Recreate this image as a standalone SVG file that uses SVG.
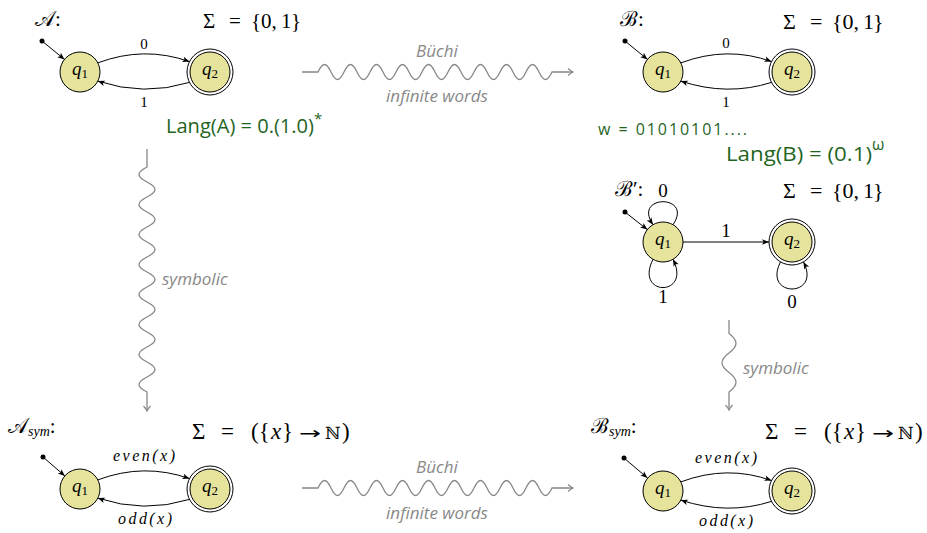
<svg xmlns="http://www.w3.org/2000/svg" width="927" height="533" viewBox="0 0 927 533">
<defs>
<marker id="ah" markerUnits="userSpaceOnUse" markerWidth="10" markerHeight="10" refX="0" refY="0" orient="auto" overflow="visible">
<path d="M0,0 L-7,-2.8 L-5.3,0 L-7,2.8 Z" fill="#000"/>
</marker>
<marker id="wh" markerUnits="userSpaceOnUse" markerWidth="10" markerHeight="10" refX="0" refY="0" orient="auto" overflow="visible">
<path d="M-5,-3.5 Q-2,-0.8 0,0 Q-2,0.8 -5,3.5" fill="none" stroke="#888" stroke-width="1.2"/>
</marker>
<style>
.st{fill:#e6e39d;stroke:#000;stroke-width:1}
.acc{fill:#fff;stroke:#000;stroke-width:1}
.m{font-family:"Liberation Serif","DejaVu Serif",serif;fill:#000}
.q{font-family:"Liberation Serif","DejaVu Serif",serif;font-style:italic;font-size:19px;fill:#000}
.sub{font-style:normal;font-size:13px}
.e{fill:none;stroke:#000;stroke-width:1;marker-end:url(#ah)}
.w{fill:none;stroke:#888;stroke-width:1.3;marker-end:url(#wh)}
.wl{font-family:"Open Sans","Liberation Sans",sans-serif;font-style:italic;font-size:17px;fill:#888}
.hw{font-family:"Open Sans","Liberation Sans",sans-serif;fill:#1f651f}
.dot{fill:#000}
.arr{font-family:"DejaVu Sans",sans-serif;font-size:17px}
.nn{font-family:"DejaVu Serif",serif;font-size:17px}
</style>
</defs>

<!-- titles and alphabets -->
<g id="titles" class="m">
<text x="35" y="26" font-size="21">𝒜:</text>
<text y="28" font-size="21"><tspan x="203">Σ</tspan><tspan x="229">=</tspan><tspan x="251">{0,</tspan><tspan x="281">1</tspan><tspan x="291">}</tspan></text>
<text x="620" y="26" font-size="21">ℬ:</text>
<text y="29" font-size="22"><tspan x="783">Σ</tspan><tspan x="810">=</tspan><tspan x="832">{0,</tspan><tspan x="863">1</tspan><tspan x="873">}</tspan></text>
<text x="615" y="196" font-size="21">ℬ′:</text>
<text y="198" font-size="22"><tspan x="783">Σ</tspan><tspan x="810">=</tspan><tspan x="832">{0,</tspan><tspan x="863">1</tspan><tspan x="873">}</tspan></text>
<text x="8" y="433" font-size="21">𝒜<tspan font-style="italic" font-size="14" dy="3">sym</tspan><tspan dy="-3">:</tspan></text>
<text y="439" font-size="23"><tspan x="192">Σ</tspan><tspan x="221">=</tspan><tspan x="251">({</tspan><tspan x="271" font-style="italic">x</tspan><tspan x="282">}</tspan><tspan class="arr" x="299" textLength="22" lengthAdjust="spacingAndGlyphs">→</tspan><tspan class="nn" x="325">ℕ</tspan><tspan x="342">)</tspan></text>
<text x="591" y="433" font-size="21">ℬ<tspan font-style="italic" font-size="14" dy="3">sym</tspan><tspan dy="-3">:</tspan></text>
<text y="439" font-size="23"><tspan x="765">Σ</tspan><tspan x="794">=</tspan><tspan x="824">({</tspan><tspan x="844" font-style="italic">x</tspan><tspan x="855">}</tspan><tspan class="arr" x="872" textLength="22" lengthAdjust="spacingAndGlyphs">→</tspan><tspan class="nn" x="898">ℕ</tspan><tspan x="915">)</tspan></text>
</g>

<!-- handwritten notes -->
<g id="notes" class="hw">
<text x="166" y="133" font-size="20"><tspan textLength="148" lengthAdjust="spacingAndGlyphs">Lang(A) = 0.(1.0)</tspan><tspan dy="-9" font-size="15">*</tspan></text>
<text x="598" y="135" font-size="16" textLength="149" lengthAdjust="spacing">w = 01010101....</text>
<text x="726" y="161" font-size="20"><tspan textLength="146" lengthAdjust="spacingAndGlyphs">Lang(B) = (0.1)</tspan><tspan dy="-11" font-size="16">ω</tspan></text>
</g>

<!-- connectors -->
<g id="connectors">
<!-- A -->
<circle class="dot" cx="42" cy="41" r="2.5"/>
<path class="e" d="M42,41 L64.5,59.4"/>
<path class="e" d="M97.8,62.9 Q144,45.5 189.5,61.6"/>
<path class="e" d="M189.5,82.4 Q144,96.5 97.8,81.1"/>
<text class="m" x="144" y="49" font-size="15" text-anchor="middle">0</text>
<text class="m" x="144" y="107" font-size="15" text-anchor="middle">1</text>
<!-- B -->
<circle class="dot" cx="625" cy="41" r="2.5"/>
<path class="e" d="M625,41 L647.5,59.4"/>
<path class="e" d="M680.8,62.9 Q727.5,45.5 771.5,61.6"/>
<path class="e" d="M771.5,82.4 Q727.5,96.5 680.8,81.1"/>
<text class="m" x="726" y="48" font-size="15" text-anchor="middle">0</text>
<text class="m" x="726" y="107" font-size="15" text-anchor="middle">1</text>
<!-- B' -->
<circle class="dot" cx="625" cy="212" r="2.5"/>
<path class="e" d="M625,212 L647.3,229.6"/>
<path class="e" d="M673,224.7 C694,194 632,194 653,224.7"/>
<path class="e" d="M653,259.3 C634,297 692,297 673,259.3"/>
<path class="e" d="M780.5,261.9 C762,298 822,298 803.5,261.9"/>
<path class="e" d="M683,242 L769,242"/>
<text class="m" x="663" y="197" font-size="19" text-anchor="middle">0</text>
<text class="m" x="726" y="237" font-size="19" text-anchor="middle">1</text>
<text class="m" x="663" y="303" font-size="19" text-anchor="middle">1</text>
<text class="m" x="792" y="308" font-size="19" text-anchor="middle">0</text>
<!-- A_sym -->
<circle class="dot" cx="43" cy="457" r="2.5"/>
<path class="e" d="M43,457 L64.9,476"/>
<path class="e" d="M97.8,479.9 Q144,462.5 189.5,478.6"/>
<path class="e" d="M189.5,499.4 Q144,513.5 97.8,498.1"/>
<text class="m" x="113" y="461" font-size="16" font-style="italic" textLength="62" lengthAdjust="spacing">even(x)</text>
<text class="m" x="118" y="524" font-size="16" font-style="italic" textLength="54" lengthAdjust="spacing">odd(x)</text>
<!-- B_sym -->
<circle class="dot" cx="624" cy="458" r="2.5"/>
<path class="e" d="M624,458 L647.5,478"/>
<path class="e" d="M680.8,481.9 Q727.5,464.5 771.5,480.6"/>
<path class="e" d="M771.5,501.4 Q727.5,515.5 680.8,500.1"/>
<text class="m" x="695" y="463" font-size="16" font-style="italic" textLength="62" lengthAdjust="spacing">even(x)</text>
<text class="m" x="699" y="526" font-size="16" font-style="italic" textLength="54" lengthAdjust="spacing">odd(x)</text>
<!-- transformations -->
<path class="w" d="M302,72 H318 c4.73,-10 8.27,-10 13,0 c4.73,10 8.27,10 13,0 c4.73,-10 8.27,-10 13,0 c4.73,10 8.27,10 13,0 c4.73,-10 8.27,-10 13,0 c4.73,10 8.27,10 13,0 c4.73,-10 8.27,-10 13,0 c4.73,10 8.27,10 13,0 c4.73,-10 8.27,-10 13,0 c4.73,10 8.27,10 13,0 c4.73,-10 8.27,-10 13,0 c4.73,10 8.27,10 13,0 c4.73,-10 8.27,-10 13,0 c4.73,10 8.27,10 13,0 c4.73,-10 8.27,-10 13,0 c4.73,10 8.27,10 13,0 c4.73,-10 8.27,-10 13,0 c4.73,10 8.27,10 13,0 H573"/>
<path class="w" d="M302,488 H318 c4.73,-10 8.27,-10 13,0 c4.73,10 8.27,10 13,0 c4.73,-10 8.27,-10 13,0 c4.73,10 8.27,10 13,0 c4.73,-10 8.27,-10 13,0 c4.73,10 8.27,10 13,0 c4.73,-10 8.27,-10 13,0 c4.73,10 8.27,10 13,0 c4.73,-10 8.27,-10 13,0 c4.73,10 8.27,10 13,0 c4.73,-10 8.27,-10 13,0 c4.73,10 8.27,10 13,0 c4.73,-10 8.27,-10 13,0 c4.73,10 8.27,10 13,0 c4.73,-10 8.27,-10 13,0 c4.73,10 8.27,10 13,0 c4.73,-10 8.27,-10 13,0 c4.73,10 8.27,10 13,0 H573"/>
<path class="w" d="M147,149 V167 c-10.67,5.46 -10.67,9.54 0,15 c10.67,5.46 10.67,9.54 0,15 c-10.67,5.46 -10.67,9.54 0,15 c10.67,5.46 10.67,9.54 0,15 c-10.67,5.46 -10.67,9.54 0,15 c10.67,5.46 10.67,9.54 0,15 c-10.67,5.46 -10.67,9.54 0,15 c10.67,5.46 10.67,9.54 0,15 c-10.67,5.46 -10.67,9.54 0,15 c10.67,5.46 10.67,9.54 0,15 c-10.67,5.46 -10.67,9.54 0,15 c10.67,5.46 10.67,9.54 0,15 c-10.67,5.46 -10.67,9.54 0,15 c10.67,5.46 10.67,9.54 0,15 c-10.67,5.46 -10.67,9.54 0,15 V411"/>
<path class="w" d="M729,320 V333.5 c9.33,7.1 9.33,12.4 0,19.5 c-9.33,7.1 -9.33,12.4 0,19.5 c9.33,7.1 9.33,12.4 0,19.5 V410"/>
<text class="wl" x="437" y="57" text-anchor="middle">Büchi</text>
<text class="wl" x="437" y="102" text-anchor="middle">infinite words</text>
<text class="wl" x="437" y="473" text-anchor="middle">Büchi</text>
<text class="wl" x="437" y="519" text-anchor="middle">infinite words</text>
<text class="wl" x="162" y="285">symbolic</text>
<text class="wl" x="743" y="374">symbolic</text>
</g>

<!-- nodes -->
<g id="A_q1"><circle class="st" cx="80" cy="72" r="20"/><text class="q" x="80" y="75" text-anchor="middle">q<tspan class="sub" dy="3">1</tspan></text></g>
<g id="A_q2"><circle class="acc" cx="210" cy="72" r="23"/><circle class="st" cx="210" cy="72" r="20"/><text class="q" x="210" y="75" text-anchor="middle">q<tspan class="sub" dy="3">2</tspan></text></g>
<g id="B_q1"><circle class="st" cx="663" cy="72" r="20"/><text class="q" x="663" y="75" text-anchor="middle">q<tspan class="sub" dy="3">1</tspan></text></g>
<g id="B_q2"><circle class="acc" cx="792" cy="72" r="23"/><circle class="st" cx="792" cy="72" r="20"/><text class="q" x="792" y="75" text-anchor="middle">q<tspan class="sub" dy="3">2</tspan></text></g>
<g id="Bp_q1"><circle class="st" cx="663" cy="242" r="20"/><text class="q" x="663" y="245" text-anchor="middle">q<tspan class="sub" dy="3">1</tspan></text></g>
<g id="Bp_q2"><circle class="acc" cx="792" cy="242" r="23"/><circle class="st" cx="792" cy="242" r="20"/><text class="q" x="792" y="245" text-anchor="middle">q<tspan class="sub" dy="3">2</tspan></text></g>
<g id="As_q1"><circle class="st" cx="80" cy="489" r="20"/><text class="q" x="80" y="492" text-anchor="middle">q<tspan class="sub" dy="3">1</tspan></text></g>
<g id="As_q2"><circle class="acc" cx="210" cy="489" r="23"/><circle class="st" cx="210" cy="489" r="20"/><text class="q" x="210" y="492" text-anchor="middle">q<tspan class="sub" dy="3">2</tspan></text></g>
<g id="Bs_q1"><circle class="st" cx="663" cy="491" r="20"/><text class="q" x="663" y="494" text-anchor="middle">q<tspan class="sub" dy="3">1</tspan></text></g>
<g id="Bs_q2"><circle class="acc" cx="792" cy="491" r="23"/><circle class="st" cx="792" cy="491" r="20"/><text class="q" x="792" y="494" text-anchor="middle">q<tspan class="sub" dy="3">2</tspan></text></g>
</svg>
